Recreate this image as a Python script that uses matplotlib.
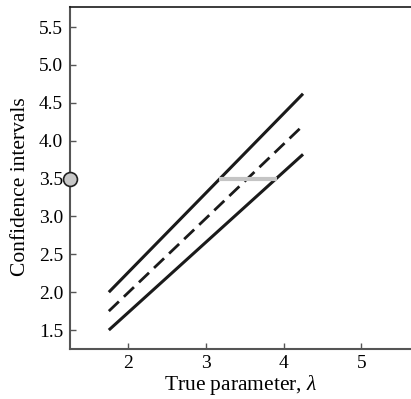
import matplotlib
matplotlib.use("Agg")
import matplotlib.pyplot as plt

# data
lam = [1.75, 4.25]
upper = [2.0, 4.62]
mid = [1.75, 4.2]
lower = [1.5, 3.82]
obs_y = 3.5
obs_span = [3.17, 3.91]

xticks = [2, 3, 4, 5]
yticks = [1.5, 2.0, 2.5, 3.0, 3.5, 4.0, 4.5, 5.0, 5.5]

plt.rcParams["font.family"] = ["Liberation Serif", "DejaVu Serif"]
plt.rcParams["mathtext.fontset"] = "custom"
plt.rcParams["mathtext.rm"] = "Liberation Serif"
plt.rcParams["mathtext.it"] = "Liberation Serif:italic"

fig = plt.figure(figsize=(4.11, 3.99), dpi=100)
ax = fig.add_axes([70 / 411, 50 / 399, 341 / 411, 342 / 399])

ax.plot(lam, upper, color="#1a1a1a", lw=2.2, solid_capstyle="butt")
ax.plot(lam, lower, color="#1a1a1a", lw=2.2, solid_capstyle="butt")
ax.plot(lam, mid, color="#1a1a1a", lw=2.0, ls=(0, (5, 2.5)), dash_capstyle="butt")
ax.plot(obs_span, [obs_y, obs_y], color="#c4c4c4", lw=3.0, solid_capstyle="butt")
ax.plot([1.25], [obs_y], "o", ms=10, mfc="#c8c8c8", mec="#222222", mew=1.2,
        clip_on=False, zorder=5)

ax.set_xlim(1.25, 5.64)
ax.set_ylim(1.25, 5.765)
ax.set_xticks(xticks, [str(v) for v in xticks])
ax.set_yticks(yticks, [f"{v:.1f}" for v in yticks])
ax.tick_params(direction="in", length=4, width=1, color="#555555",
               labelsize=14, pad=4)
ax.tick_params(axis="y", pad=5)

for side in ("left", "bottom"):
    ax.spines[side].set_color("#555555")
    ax.spines[side].set_linewidth(1.5)
ax.spines["top"].set_color("#1a1a1a")
ax.spines["top"].set_linewidth(1.2)
ax.spines["right"].set_visible(False)

ax.set_xlabel(r"True parameter, $\lambda$", fontsize=15.5, labelpad=1)
ax.set_ylabel("Confidence intervals", fontsize=15.5)
ax.yaxis.set_label_coords(-0.116, 0.475)

fig.savefig("out.png", dpi=100)
